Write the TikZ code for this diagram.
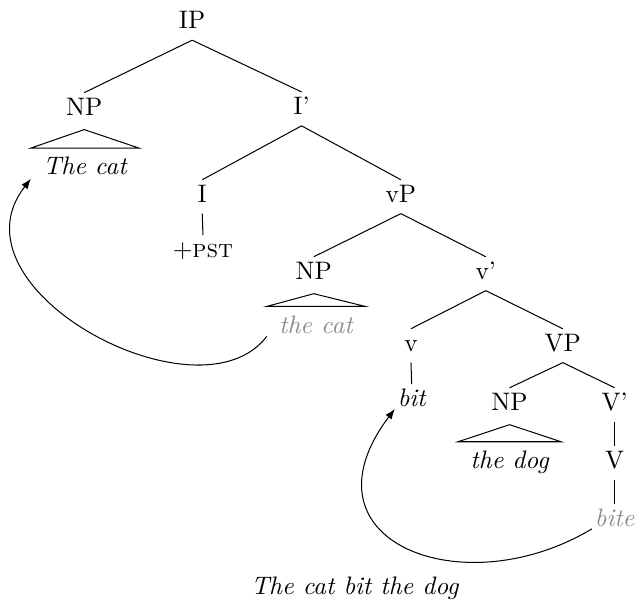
\documentclass[tikz,border=0pt]{standalone}
\usetikzlibrary{arrows.meta}

\begin{document}
\begin{tikzpicture}[
  lbl/.style={anchor=base,text height=7.7pt,text depth=3.3pt,inner sep=1pt},
  roof/.style={lbl,inner xsep=4.7pt,inner ysep=2.7pt,font=\itshape},
  trace/.style={text=black!45}]
\useasboundingbox (0,0) rectangle (8.92,-8.36);
\node[lbl] (ip) at (2.67,-0.40) {IP};
\node[lbl] (np1) at (1.17,-1.60) {NP};
\node[lbl] (ibar) at (4.19,-1.59) {I'};
\node[roof] (subj) at (1.18,-2.43) {The cat};
\node[lbl] (i) at (2.81,-2.81) {I};
\node[lbl] (vp1) at (5.57,-2.81) {vP};
\node[lbl] (pst) at (2.82,-3.58) {+\textsc{pst}};
\node[lbl] (np2) at (4.36,-3.88) {NP};
\node[lbl] (vbar1) at (6.75,-3.88) {v'};
\node[roof,trace] (subjt) at (4.39,-4.63) {the cat};
\node[lbl] (v1) at (5.71,-4.88) {v};
\node[lbl] (vp2) at (7.82,-4.88) {VP};
\node[lbl,font=\itshape] (bit) at (5.72,-5.65) {bit};
\node[lbl] (np3) at (7.08,-5.70) {NP};
\node[lbl] (vbar2) at (8.54,-5.70) {V'};
\node[roof] (obj) at (7.08,-6.51) {the dog};
\node[lbl] (v2) at (8.54,-6.51) {V};
\node[lbl,font=\itshape,trace] (bite) at (8.54,-7.31) {bite};
\node[lbl,font=\itshape] (sent) at (4.93,-8.26) {The cat bit the dog};
% branches
\draw (ip.south) -- (np1.north);
\draw (ip.south) -- (ibar.north);
\draw (ibar.south) -- (i.north);
\draw (ibar.south) -- (vp1.north);
\draw (i.south) -- (pst.north);
\draw (vp1.south) -- (np2.north);
\draw (vp1.south) -- (vbar1.north);
\draw (vbar1.south) -- (v1.north);
\draw (vbar1.south) -- (vp2.north);
\draw (v1.south) -- (bit.north);
\draw (vp2.south) -- (np3.north);
\draw (vp2.south) -- (vbar2.north);
\draw (vbar2.south) -- (v2.north);
\draw (v2.south) -- (bite.north);
% roofs
\draw ([yshift=-1.2pt]np1.south) -- (subj.north west) -- (subj.north east) -- cycle;
\draw ([yshift=-1.2pt]np2.south) -- (subjt.north west) -- (subjt.north east) -- cycle;
\draw ([yshift=-1.2pt]np3.south) -- (obj.north west) -- (obj.north east) -- cycle;
% movement
\draw[-{Latex[length=4pt,width=3pt]}] (subjt.190) to[out=233,in=232,out looseness=1,in looseness=1.26] (subj.190);
\draw[-{Latex[length=4pt,width=3pt]}] (bite.200) to[out=211,in=233,out looseness=1.67,in looseness=1.84] (bit.205);
\end{tikzpicture}
\end{document}
